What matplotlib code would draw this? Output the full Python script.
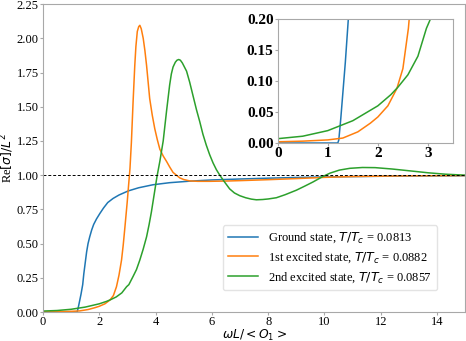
import numpy as np
import matplotlib.pyplot as plt

plt.rcParams['font.family'] = ['Liberation Serif', 'DejaVu Serif']
plt.rcParams['mathtext.fontset'] = 'dejavusans'

# values
w_ground = [0, 0.6, 1.2, 1.22, 1.26, 1.3, 1.35, 1.41, 1.45, 1.5, 1.55, 1.6, 1.66,
            1.73, 1.8, 1.9, 2.02, 2.15, 2.3, 2.49, 2.7, 3.03, 3.4, 3.91, 4.5, 5.2,
            6.0, 7.0, 8.0, 9.0, 10.0, 12.0, 15.0]
s_ground = [0, 0, 0, 0.005, 0.04, 0.08, 0.13, 0.2, 0.28, 0.36, 0.44, 0.5, 0.55,
            0.6, 0.64, 0.68, 0.72, 0.76, 0.8, 0.83, 0.855, 0.885, 0.908, 0.93,
            0.945, 0.956, 0.965, 0.972, 0.978, 0.983, 0.987, 0.992, 0.996]

w_first = [0, 0.5, 1.0, 1.3, 1.6, 1.85, 2.0, 2.2, 2.38, 2.5, 2.61, 2.7, 2.79, 2.85,
           2.91, 2.99, 3.03, 3.09, 3.14, 3.2, 3.26, 3.3, 3.35, 3.4, 3.44, 3.49,
           3.56, 3.62, 3.68, 3.79, 3.88, 3.97, 4.06, 4.15, 4.27, 4.39, 4.5, 4.62,
           4.74, 4.86, 5.0, 5.21, 5.5, 5.92, 6.5, 7.0, 8.0, 9.0, 9.6, 10.0, 11.0,
           12.0, 13.0, 15.0]
s_first = [0.002, 0.003, 0.005, 0.008, 0.018, 0.032, 0.042, 0.06, 0.088, 0.12,
           0.185, 0.27, 0.38, 0.49, 0.62, 0.8, 0.9, 1.05, 1.24, 1.535, 1.8, 1.94,
           2.05, 2.085, 2.095, 2.07, 2.0, 1.91, 1.8, 1.56, 1.44, 1.34, 1.26, 1.19,
           1.14, 1.1, 1.06, 1.02, 1.0, 0.98, 0.968, 0.958, 0.955, 0.955, 0.957,
           0.96, 0.967, 0.975, 0.98, 0.984, 0.99, 0.993, 0.995, 0.997]

w_second = [0, 0.5, 1.0, 1.5, 2.0, 2.26, 2.4, 2.6, 2.8, 2.97, 3.05, 3.2, 3.32, 3.44,
            3.56, 3.68, 3.77, 3.85, 3.95, 4.05, 4.15, 4.27, 4.39, 4.5, 4.56, 4.62,
            4.7, 4.76, 4.82, 4.88, 4.95, 5.1, 5.21, 5.33, 5.45, 5.57, 5.68, 5.8,
            5.92, 6.04, 6.16, 6.28, 6.45, 6.63, 6.8, 6.99, 7.2, 7.4, 7.58, 7.8, 8.0,
            8.29, 8.6, 9.0, 9.3, 9.59, 9.94, 10.2, 10.53, 10.9, 11.35, 11.8, 12.4,
            13.1, 13.7, 14.3, 15.0]
s_second = [0.007, 0.011, 0.02, 0.036, 0.06, 0.078, 0.09, 0.11, 0.14, 0.185, 0.2,
            0.26, 0.31, 0.38, 0.46, 0.55, 0.64, 0.73, 0.86, 0.99, 1.1, 1.25, 1.47,
            1.66, 1.74, 1.79, 1.825, 1.84, 1.845, 1.84, 1.82, 1.76, 1.68, 1.58, 1.48,
            1.39, 1.3, 1.22, 1.15, 1.09, 1.04, 1.0, 0.95, 0.9, 0.87, 0.85, 0.835,
            0.825, 0.82, 0.822, 0.826, 0.835, 0.857, 0.89, 0.92, 0.95, 0.99, 1.015,
            1.037, 1.05, 1.056, 1.055, 1.045, 1.03, 1.017, 1.007, 1.0]

labels = ['Ground state, $T/T_c$ = 0.0813',
          '1st excited state, $T/T_c$ = 0.0882',
          '2nd excited state, $T/T_c$ = 0.0857']
series = [(w_ground, s_ground), (w_first, s_first), (w_second, s_second)]
colors = ['C0', 'C1', 'C2']

spine_col = '#a8a8a8'

fig = plt.figure(figsize=(4.66, 3.41), dpi=100)
ax = fig.add_axes([0.0923, 0.085, 0.906, 0.903])
for (w, s), c, lab in zip(series, colors, labels):
    ax.plot(w, s, color=c, lw=1.1, label=lab)
ax.axhline(1.0, color='black', lw=0.7, ls=(0, (3, 2)))
ax.set_xlim(0, 15)
ax.set_ylim(0, 2.25)
ax.set_xticks(np.arange(0, 15, 2))
ax.set_yticks(np.arange(0, 2.26, 0.25))
ax.yaxis.set_major_formatter(plt.FormatStrFormatter('%.2f'))
ax.tick_params(labelsize=9, color=spine_col, length=2.5, pad=0.5)
for sp in ax.spines.values():
    sp.set_color(spine_col)
ax.set_xlabel(r'$\omega L/<O_1>$', fontsize=8.8)
ax.set_ylabel(r'Re$[\sigma]/L^2$', fontsize=9)
ax.xaxis.set_label_coords(0.5, -0.051)
ax.yaxis.set_label_coords(-0.063, 0.5)
ax.legend(loc='lower right', bbox_to_anchor=(0.934, 0.071), borderaxespad=0,
          fontsize=9, handlelength=2.4, borderpad=0.45, labelspacing=0.4,
          handletextpad=0.8, edgecolor='#dddddd')

ins = fig.add_axes([0.596, 0.5806, 0.376, 0.3636])
for (w, s), c in zip(series, colors):
    ins.plot(w, s, color=c, lw=1.1)
ins.set_xlim(0, 3.5)
ins.set_ylim(0, 0.2)
ins.set_xticks([0, 1, 2, 3])
ins.set_yticks([0, 0.05, 0.1, 0.15, 0.2])
ins.yaxis.set_major_formatter(plt.FormatStrFormatter('%.2f'))
ins.tick_params(labelsize=11, color=spine_col, length=2, pad=1)
for t in ins.get_xticklabels() + ins.get_yticklabels():
    t.set_fontweight('bold')
for sp in ins.spines.values():
    sp.set_color(spine_col)

fig.savefig('out.png', dpi=100)
